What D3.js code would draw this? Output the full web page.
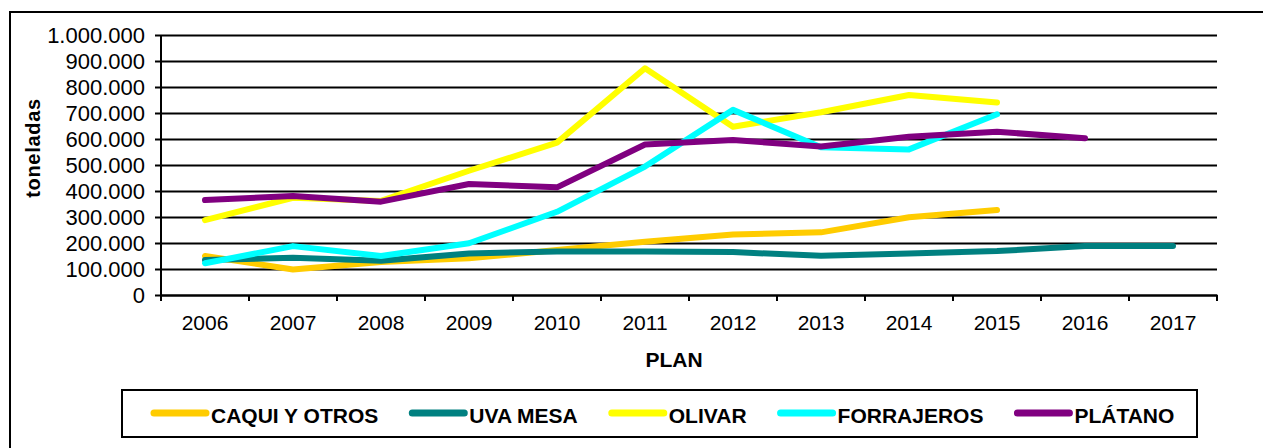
<!DOCTYPE html>
<html>
<head>
<meta charset="utf-8">
<script src="https://cdn.jsdelivr.net/npm/d3@7"></script>
<style>
  body { margin: 0; background: #fff; }
  svg text { font-family: "Liberation Sans", Arial, sans-serif; fill: #000; }
</style>
</head>
<body>
<div id="chart"></div>
<script>
// años del plan
var years = ["2006", "2007", "2008", "2009", "2010", "2011", "2012", "2013", "2014", "2015", "2016", "2017"];

// toneladas por cultivo (null = sin dato)
var caqui      = [150000, 98000, 127000, 141000, 173000, 205000, 233000, 241000, 299000, 327000, null, null];
var uvaMesa    = [135000, 143000, 132000, 160000, 167000, 167000, 165000, 151000, 160000, 169000, 188000, 188000];
var olivar     = [288000, 374000, 362000, 478000, 586000, 872000, 647000, 703000, 769000, 740000, null, null];
var forrajeros = [122000, 188000, 150000, 199000, 320000, 494000, 712000, 568000, 560000, 695000, null, null];
var platano    = [365000, 381000, 359000, 427000, 414000, 579000, 596000, 571000, 609000, 628000, 603000, null];

var seriesNames = ["CAQUI Y OTROS", "UVA MESA", "OLIVAR", "FORRAJEROS", "PLÁTANO"];
var seriesColors = ["#FFCC00", "#008080", "#FFFF00", "#00FFFF", "#800080"];
var yTicks = [0, 100000, 200000, 300000, 400000, 500000, 600000, 700000, 800000, 900000, 1000000];

var allSeries = [caqui, uvaMesa, olivar, forrajeros, platano];

var width = 1263,
    height = 448;

var margin = {left: 161, right: 46, top: 35, bottom: 153};
var plotW = width - margin.left - margin.right,
    plotH = height - margin.top - margin.bottom;

var fmt = d3.formatLocale({decimal: ",", thousands: ".", grouping: [3], currency: ["", ""]}).format(",d");

var svg = d3.select("#chart")
    .append("svg")
    .attr("width", width)
    .attr("height", height);

// marco exterior
svg.append("rect")
    .attr("x", 10)
    .attr("y", 12)
    .attr("width", width)
    .attr("height", height)
    .attr("fill", "none")
    .attr("stroke", "#000")
    .attr("stroke-width", 2);

var g = svg.append("g")
    .attr("transform", "translate(" + margin.left + "," + margin.top + ")");

var x = d3.scaleBand()
    .domain(years)
    .range([0, plotW])
    .padding(0);

var y = d3.scaleLinear()
    .domain([0, 1000000])
    .range([plotH, 0]);

// rejilla
g.append("g")
    .attr("class", "grid")
    .call(d3.axisLeft(y).tickValues(yTicks).tickSize(-plotW).tickFormat(""))
    .call(function (s) { s.select(".domain").remove(); })
    .selectAll("line")
      .attr("stroke", "#000")
      .attr("stroke-width", 2);

// eje y
var yAxis = g.append("g")
    .call(d3.axisLeft(y).tickValues(yTicks).tickSize(6).tickPadding(10).tickFormat(fmt));
yAxis.select(".domain").attr("stroke", "#000").attr("stroke-width", 2).attr("d", "M0,0V" + (plotH + 6));
yAxis.selectAll(".tick line").attr("stroke", "#000").attr("stroke-width", 2);
yAxis.selectAll("text").style("font-size", "22px").attr("dy", "0.34em");

// eje x
var xAxis = g.append("g")
    .attr("transform", "translate(0," + plotH + ")")
    .call(d3.axisBottom(x).tickSize(0).tickPadding(20));
xAxis.select(".domain").attr("stroke", "#000").attr("stroke-width", 2);
xAxis.selectAll("text").style("font-size", "21px");

// marcas entre categorías
xAxis.selectAll(".bound")
    .data(years.slice(1).concat(["end"]))
    .enter().append("line")
      .attr("class", "bound")
      .attr("x1", function (d) { return d === "end" ? plotW : x(d); })
      .attr("x2", function (d) { return d === "end" ? plotW : x(d); })
      .attr("y1", 0)
      .attr("y2", 6)
      .attr("stroke", "#000")
      .attr("stroke-width", 2);

// líneas
var line = d3.line()
    .defined(function (d) { return d != null; })
    .x(function (d, i) { return x(years[i]) + x.bandwidth() / 2; })
    .y(function (d) { return y(d); });

g.append("g")
    .selectAll("path")
    .data(allSeries)
    .enter().append("path")
      .attr("d", line)
      .attr("fill", "none")
      .attr("stroke", function (d, i) { return seriesColors[i]; })
      .attr("stroke-width", 6)
      .attr("stroke-linejoin", "round")
      .attr("stroke-linecap", "round");

// títulos de ejes
svg.append("text")
    .attr("transform", "translate(40,148) rotate(-90)")
    .attr("text-anchor", "middle")
    .style("font-size", "20px")
    .style("font-weight", "bold")
    .style("letter-spacing", "0.7px")
    .text("toneladas");

svg.append("text")
    .attr("x", 674)
    .attr("y", 367)
    .attr("text-anchor", "middle")
    .style("font-size", "21px")
    .style("font-weight", "bold")
    .text("PLAN");

// leyenda
var legendBox = {x: 122, y: 390, w: 1075, h: 47};
svg.append("rect")
    .attr("x", legendBox.x)
    .attr("y", legendBox.y)
    .attr("width", legendBox.w)
    .attr("height", legendBox.h)
    .attr("fill", "#fff")
    .attr("stroke", "#000")
    .attr("stroke-width", 2);

var legend = svg.append("g");
var cx = legendBox.x + 29;
seriesNames.forEach(function (name, i) {
    var item = legend.append("g").attr("transform", "translate(" + cx + ",0)");
    item.append("line")
        .attr("x1", 3).attr("x2", 55)
        .attr("y1", 413).attr("y2", 413)
        .attr("stroke", seriesColors[i])
        .attr("stroke-width", 7)
        .attr("stroke-linecap", "round");
    var t = item.append("text")
        .attr("x", 60)
        .attr("y", 423)
        .style("font-size", "21px")
        .style("font-weight", "bold")
        .text(name);
    cx += 60 + t.node().getComputedTextLength() + 31;
});
</script>
</body>
</html>
